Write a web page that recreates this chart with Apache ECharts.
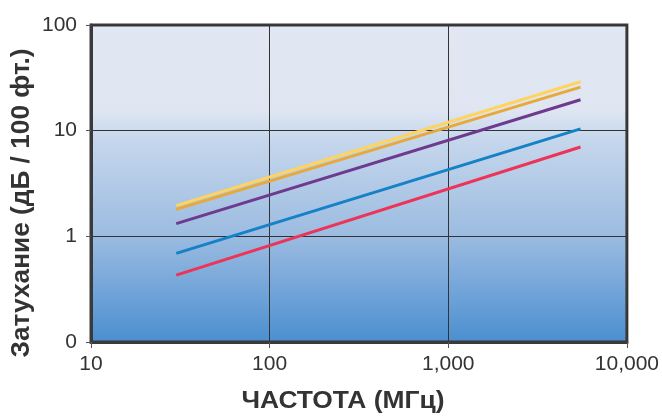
<!DOCTYPE html>
<html>
<head>
<meta charset="utf-8">
<script src="https://cdn.jsdelivr.net/npm/echarts@6/dist/echarts.min.js"></script>
<style>
html,body{margin:0;padding:0;background:#fff;}
#chart{width:662px;height:417px;}
</style>
</head>
<body>
<div id="chart"></div>
<script>
// Frequency (MHz) endpoints for each cable line
var freqs = [30, 5500];
// Attenuation (dB / 100 ft) for each series at the endpoints
var seriesYellow = [1.95, 29.0];
var seriesOrange = [1.80, 25.8];
var seriesPurple = [1.32, 19.6];
var seriesBlue   = [0.69, 10.4];
var seriesRed    = [0.43, 7.0];
var seriesNames  = ['A', 'B', 'C', 'D', 'E'];
var seriesColors = ['#FFD45E', '#E8A83A', '#6E3A8E', '#1581C6', '#EE3358'];
var xTickLabels = {10: '10', 100: '100', 1000: '1,000', 10000: '10,000'};
var yTickLabels = {0.1: '0', 1: '1', 10: '10', 100: '100'};
var xTitle = 'ЧАСТОТА (МГц)';
var yTitle = 'Затухание (дБ / 100 фт.)';

var allSeries = [seriesYellow, seriesOrange, seriesPurple, seriesBlue, seriesRed];

var chart = echarts.init(document.getElementById('chart'), null, {renderer: 'canvas'});
var font = '"Liberation Sans", Arial, sans-serif';

function lookup(map, v) {
  var keys = Object.keys(map);
  for (var i = 0; i < keys.length; i++) {
    var k = parseFloat(keys[i]);
    if (Math.abs(Math.log10(v) - Math.log10(k)) < 1e-6) return map[keys[i]];
  }
  return '';
}

// measure x-title to stretch it to the reference width
var xTitleFont = 'bold 24px ' + font;
var mctx = document.createElement('canvas').getContext('2d');
mctx.font = xTitleFont;
var xTitleScale = 203 / mctx.measureText(xTitle).width;
var yTitleFont = 'bold 26.5px ' + font;
mctx.font = yTitleFont;
var yTitleScale = 309 / mctx.measureText(yTitle).width;

var option = {
  animation: false,
  grid: {
    left: 91, right: 31, top: 25, bottom: 75,
    show: true,
    borderColor: '#3a3a3a',
    borderWidth: 3,
    backgroundColor: {
      type: 'linear', x: 0, y: 0, x2: 0, y2: 1,
      colorStops: [
        {offset: 0, color: '#E1E7F3'},
        {offset: 0.27, color: '#DFE6F2'},
        {offset: 0.36, color: '#C6D7EC'},
        {offset: 0.66, color: '#9CBCE1'},
        {offset: 1, color: '#4A8ED0'}
      ]
    }
  },
  xAxis: {
    type: 'log', logBase: 10, min: 10, max: 10000,
    axisLine: {show: true, lineStyle: {color: '#3a3a3a', width: 3}},
    axisTick: {show: true, length: 6, lineStyle: {color: '#555', width: 1}},
    minorTick: {show: false},
    splitLine: {show: true, lineStyle: {color: '#333', width: 1}},
    axisLabel: {
      margin: 12, color: '#333', fontSize: 21, fontFamily: font,
      formatter: function (v) { return lookup(xTickLabels, v); }
    }
  },
  yAxis: {
    type: 'log', logBase: 10, min: 0.1, max: 100,
    axisLine: {show: true, lineStyle: {color: '#3a3a3a', width: 3}},
    axisTick: {show: true, length: 5, lineStyle: {color: '#555', width: 1}},
    splitLine: {show: true, lineStyle: {color: '#333', width: 1}},
    axisLabel: {
      margin: 14, color: '#333', fontSize: 21, fontFamily: font,
      formatter: function (v) { return lookup(yTickLabels, v); }
    }
  },
  graphic: [
    {
      type: 'text', x: 343, y: 401, scaleX: xTitleScale,
      style: {text: xTitle, fill: '#333', font: xTitleFont, align: 'center', verticalAlign: 'middle'}
    },
    {
      type: 'text', x: 22, y: 203, rotation: Math.PI / 2, scaleX: yTitleScale,
      style: {text: yTitle, fill: '#333', font: yTitleFont, align: 'center', verticalAlign: 'middle'}
    }
  ],
  series: allSeries.map(function (vals, i) {
    return {
      name: seriesNames[i], type: 'line', symbol: 'none',
      lineStyle: {color: seriesColors[i], width: 3},
      data: freqs.map(function (f, j) { return [f, vals[j]]; })
    };
  })
};
chart.setOption(option);
</script>
</body>
</html>
